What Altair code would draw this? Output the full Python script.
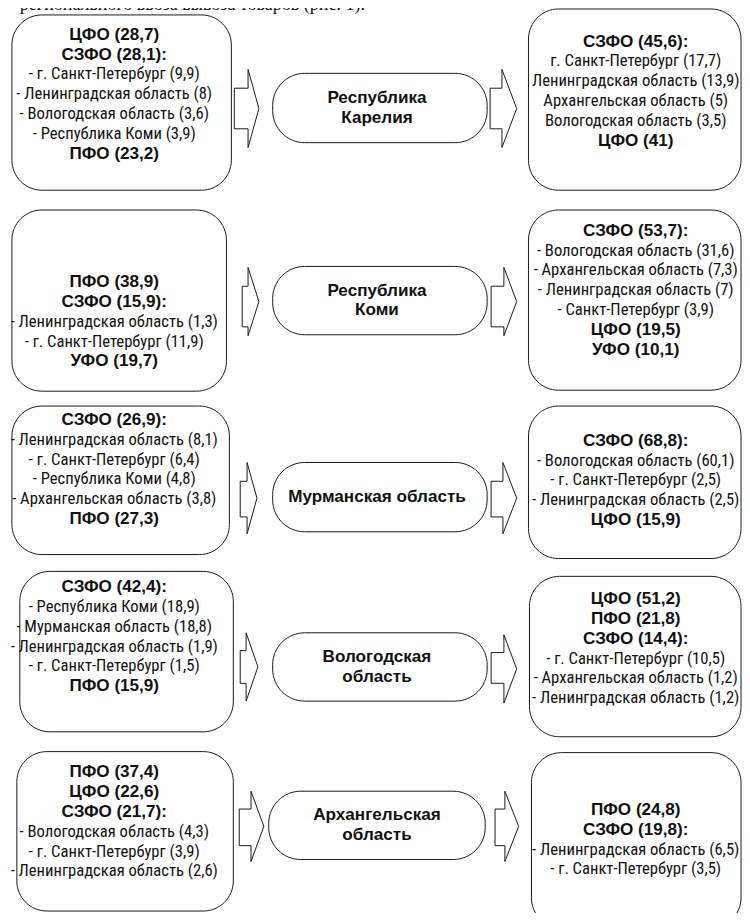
import altair as alt
import pandas as pd

# ---------------- data (text content) ----------------
title_text = "регионального ввоза вывоза товаров (рис. 1)."

center_lines = [
    ["Республика", "Карелия"],
    ["Республика", "Коми"],
    ["Мурманская область"],
    ["Вологодская", "область"],
    ["Архангельская", "область"],
]

inflow_lines = [
    ["ЦФО (28,7)", "СЗФО (28,1):", "- г. Санкт-Петербург (9,9)", "- Ленинградская область (8)",
     "- Вологодская область (3,6)", "- Республика Коми (3,9)", "ПФО (23,2)"],
    ["ПФО (38,9)", "СЗФО (15,9):", "- Ленинградская область (1,3)", "- г. Санкт-Петербург (11,9)",
     "УФО (19,7)"],
    ["СЗФО (26,9):", "- Ленинградская область (8,1)", "- г. Санкт-Петербург (6,4)",
     "- Республика Коми (4,8)", "- Архангельская область (3,8)", "ПФО (27,3)"],
    ["СЗФО (42,4):", "- Республика Коми (18,9)", "- Мурманская область (18,8)",
     "- Ленинградская область (1,9)", "- г. Санкт-Петербург (1,5)", "ПФО (15,9)"],
    ["ПФО (37,4)", "ЦФО (22,6)", "СЗФО (21,7):", "- Вологодская область (4,3)",
     "- г. Санкт-Петербург (3,9)", "- Ленинградская область (2,6)"],
]

outflow_lines = [
    ["СЗФО (45,6):", "г. Санкт-Петербург (17,7)", "Ленинградская область (13,9)",
     "Архангельская область (5)", "Вологодская область (3,5)", "ЦФО (41)"],
    ["СЗФО (53,7):", "- Вологодская область (31,6)", "- Архангельская область (7,3)",
     "- Ленинградская область (7)", "- Санкт-Петербург (3,9)", "ЦФО (19,5)", "УФО (10,1)"],
    ["СЗФО (68,8):", "- Вологодская область (60,1)", "- г. Санкт-Петербург (2,5)",
     "- Ленинградская область (2,5)", "ЦФО (15,9)"],
    ["ЦФО (51,2)", "ПФО (21,8)", "СЗФО (14,4):", "- г. Санкт-Петербург (10,5)",
     "- Архангельская область (1,2)", "- Ленинградская область (1,2)"],
    ["ПФО (24,8)", "СЗФО (19,8):", "- Ленинградская область (6,5)", "- г. Санкт-Петербург (3,5)"],
]

# ---------------- layout (diagram geometry in reference page units) ----------------
left_boxes = [(7, 230, 13, 190), (7, 225, 210, 393), (7, 228, 408, 558),
              (15, 232, 575, 737), (12, 232, 757, 918)]
right_boxes = [(532, 748, 7, 190), (532, 748, 210, 392), (532, 748, 408, 562),
               (533, 748, 580, 742), (535, 748, 758, 935)]
mid_boxes = [(272, 490, 72, 142), (272, 490, 267, 336), (272, 490, 465, 535),
             (272, 490, 637, 706), (268, 488, 797, 866)]

left_first = [33, 283, 422, 591, 778]
right_first = [40, 231, 443, 603, 816]
line_step = 20
left_cx, right_cx, mid_cx = 111, 641, 378

# arrows: shaft left, head base, tip, head top, head bottom, shaft top, shaft bottom
left_arrows = [(233, 247, 258, 68, 147, 87, 128), (241, 247, 258, 268, 337, 287, 328),
               (239, 246, 256, 465, 537, 484, 520), (239, 245, 257, 637, 706, 655, 688),
               (238, 250, 263, 797, 868, 815, 852)]
right_arrows = [(493, 505, 520, 68, 147, 87, 128), (494, 507, 520, 268, 337, 287, 328),
                (494, 506, 520, 465, 537, 484, 520), (494, 507, 520, 639, 708, 657, 688),
                (498, 508, 522, 797, 868, 815, 852)]

# ---------------- build tables ----------------
big_df = pd.DataFrame([dict(x=a, x2=b, y=c, y2=d) for (a, b, c, d) in left_boxes + right_boxes])
mid_df = pd.DataFrame([dict(x=a, x2=b, y=c, y2=d) for (a, b, c, d) in mid_boxes])

arrow_rows = []
for i, (x0, xh, xt, yht, yhb, yst, ysb) in enumerate(left_arrows + right_arrows):
    ytip = (yht + yhb) / 2
    pts = [(x0, yst), (xh, yst), (xh, yht), (xt, ytip), (xh, yhb), (xh, ysb), (x0, ysb), (x0, yst)]
    for k, (px, py) in enumerate(pts):
        arrow_rows.append(dict(id=i, k=k, x=px, y=py))
arrow_df = pd.DataFrame(arrow_rows)

text_rows = []
for i, lines in enumerate(inflow_lines):
    for j, t in enumerate(lines):
        text_rows.append(dict(x=left_cx, y=left_first[i] + j * line_step, t=t))
for i, lines in enumerate(outflow_lines):
    for j, t in enumerate(lines):
        text_rows.append(dict(x=right_cx, y=right_first[i] + j * line_step, t=t))
text_df = pd.DataFrame(text_rows)
text_df["bold"] = text_df["t"].str.contains("ФО \\(")

mid_text_rows = []
for i, lines in enumerate(center_lines):
    x1, x2, y1, y2 = mid_boxes[i]
    cy = (y1 + y2) / 2
    n = len(lines)
    for j, t in enumerate(lines):
        mid_text_rows.append(dict(x=mid_cx, y=cy + (j - (n - 1) / 2) * line_step, t=t))
mid_text_df = pd.DataFrame(mid_text_rows)

title_df = pd.DataFrame([dict(x=15, y=8, t=title_text)])

# ---------------- scales ----------------
xs = alt.Scale(domain=[3, 749], nice=False, zero=False)
ys = alt.Scale(domain=[6, 920], nice=False, zero=False, reverse=True)

STROKE = "#1a1a1a"
NARROW = "Roboto Condensed, DejaVu Sans Condensed, sans-serif"
BOLD = "Liberation Sans, Arimo, Arial, sans-serif"

X = alt.X("x:Q", scale=xs, axis=None)
Y = alt.Y("y:Q", scale=ys, axis=None)

big = alt.Chart(big_df).mark_rect(cornerRadius=30, fill="white", stroke=STROKE, strokeWidth=1).encode(
    x=X, x2="x2:Q", y=Y, y2="y2:Q")

mid = alt.Chart(mid_df).mark_rect(cornerRadius=32, fill="white", stroke=STROKE, strokeWidth=1).encode(
    x=X, x2="x2:Q", y=Y, y2="y2:Q")

arrows = alt.Chart(arrow_df).mark_line(color=STROKE, strokeWidth=1, strokeJoin="miter").encode(
    x=X, y=Y, detail="id:N", order="k:Q")

reg_text = alt.Chart(text_df).transform_filter("!datum.bold").mark_text(
    align="center", baseline="middle", font=NARROW, fontSize=16.6, color="#111").encode(
    x=X, y=Y, text="t:N")

bold_text = alt.Chart(text_df).transform_filter("datum.bold").mark_text(
    align="center", baseline="middle", font=BOLD, fontSize=17.1, fontWeight="bold", color="#111").encode(
    x=X, y=Y, text="t:N")

mid_text = alt.Chart(mid_text_df).mark_text(
    align="center", baseline="middle", font=BOLD, fontSize=17.1, fontWeight="bold", color="#111").encode(
    x=X, y=Y, text="t:N")

title = alt.Chart(title_df).mark_text(
    align="left", baseline="alphabetic", font="Liberation Serif, serif", fontSize=18, color="#111").encode(
    x=X, y=Y, text="t:N")

chart = alt.layer(big, mid, arrows, reg_text, bold_text, mid_text, title).properties(
    width=734, height=905, padding=0,
    autosize=alt.AutoSizeParams(type="none"),
).configure_view(stroke=None)

chart.save("out.html", embed_options={"renderer": "svg", "actions": False})
